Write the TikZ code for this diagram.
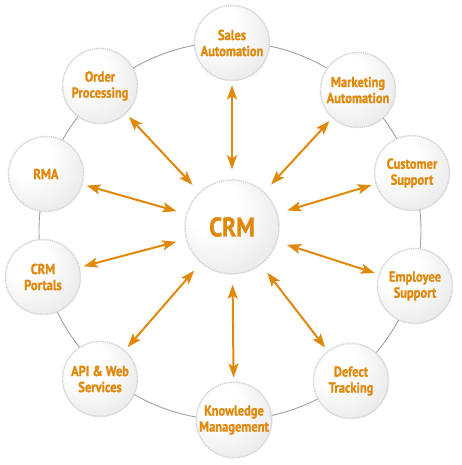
\documentclass[tikz,border=0pt]{standalone}
\usepackage{fontspec}
\setmainfont[FakeStretch=0.86,BoldFeatures={FakeBold=1.2}]{PT Sans}
\usetikzlibrary{arrows.meta}
\definecolor{crmorange}{HTML}{E0880A}
\definecolor{ringgray}{HTML}{A0A0A0}
\definecolor{dotgray}{HTML}{D0D0D0}
\pgfdeclareradialshading{satshade}{\pgfpoint{-14bp}{14bp}}{color(0bp)=(white); color(14bp)=(white); color(45bp)=(black!12); color(70bp)=(black!20)}
\tikzset{
  sat/.style={circle, minimum size=75pt, inner sep=0pt, shading=satshade,
    draw=dotgray, line width=1.4pt, dash pattern=on 1.3pt off 0.9pt,
    text=crmorange, font=\bfseries\fontsize{14.5}{16}\selectfont, align=center},
  hub/.style={sat, minimum size=94pt, font=\bfseries\fontsize{27}{30}\selectfont},
  arr/.style={draw=crmorange, line width=2pt,
    {Stealth[length=14pt,width=10pt,inset=3pt]}-{Stealth[length=14pt,width=10pt,inset=3pt]},
    shorten <=10pt, shorten >=4pt},
  ring/.style={draw=ringgray, line width=0.9pt}
}
\begin{document}
\begin{tikzpicture}[x=1pt,y=-1pt]
\useasboundingbox (0,0) rectangle (461,465);
\draw[ring] (230,231) ellipse [x radius=191pt, y radius=189pt];
\node[hub] (crm) at (232,227) {CRM};
\node[sat] (sales) at (232,43) {Sales\\Automation};
\node[sat] (mkt) at (358,90) {Marketing\\Automation};
\node[sat] (cust) at (412,173) {Customer\\Support};
\node[sat] (emp) at (415,286) {Employee\\Support};
\node[sat] (def) at (351,381) {Defect\\Tracking};
\node[sat] (know) at (234,420) {Knowledge\\Management};
\node[sat] (api) at (100,379) {API \& Web\\Services};
\node[sat] (port) at (43,277) {CRM\\Portals};
\node[sat] (rma) at (46,174) {RMA};
\node[sat] (ord) at (100,86) {Order\\Processing};
\foreach \n in {sales,mkt,cust,emp,def,know,api,port,rma,ord}
  \draw[arr] (crm) -- (\n);
\end{tikzpicture}
\end{document}
